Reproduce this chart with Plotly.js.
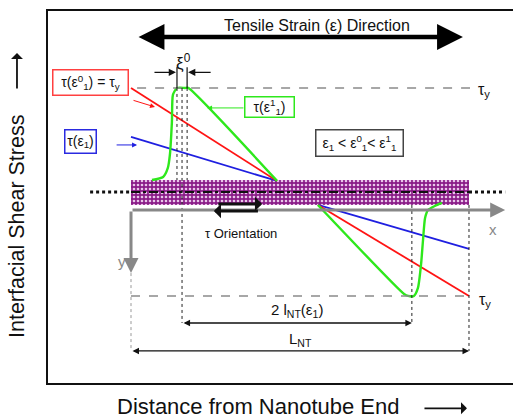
<!DOCTYPE html>
<html>
<head>
<meta charset="utf-8">
<script src="https://cdn.plot.ly/plotly-3.0.1.min.js"></script>
<style>html,body{margin:0;padding:0;background:#fff;}#chart{width:513px;height:419px;}</style>
</head>
<body>
<div id="chart"></div>
<script>
// ---- Schematic data (x: distance along nanotube / L_NT, y: shear stress / tau_y) ----
const nanotubeStart = 0, nanotubeEnd = 1;
const tauY = 1;

const redUpperX = [0, 0.432];
const redUpperY = [1, 0.106];
const redLowerX = [0.553, 1];
const redLowerY = [-0.125, -1];

const blueUpperX = [0, 0.432];
const blueUpperY = [0.53, 0.106];
const blueLowerX = [0.553, 1];
const blueLowerY = [-0.125, -0.548];

const greenUpperX = [0.062, 0.095, 0.109, 0.115, 0.121, 0.124, 0.136, 0.160, 0.169, 0.432];
const greenUpperY = [0.115, 0.144, 0.231, 0.356, 0.673, 0.933, 1, 1, 1, 0.106];
const greenLowerX = [0.553, 0.808, 0.820, 0.837, 0.849, 0.858, 0.864, 0.870, 0.879, 0.899, 0.920];
const greenLowerY = [-0.125, -0.981, -1, -1, -0.923, -0.702, -0.462, -0.25, -0.173, -0.135, -0.106];

const xiEdges = [0.136, 0.166];
const xiCenter = 0.151;
const lntRight = 0.831;

const centerlineLeftX = [-0.121, 0];
const centerlineMidX = [0, 1];
const centerlineRightX = [1, 1.107];

// ---- Traces ----
const traces = [];
// nanotube band
traces.push({type:'bar', orientation:'h', y:[-0.005], x:[nanotubeEnd - nanotubeStart], base:[nanotubeStart],
  width:[0.24], hoverinfo:'skip', showlegend:false,
  marker:{color:'#8a1c88', line:{width:0},
    pattern:{shape:'.', bgcolor:'#8a1c88', fgcolor:'#e9c6ea', size:4, solidity:0.35}}});
// centerline
traces.push({type:'scatter', mode:'lines', x:centerlineLeftX, y:[0,0], line:{color:'#111', width:3, dash:'dot'}, showlegend:false, hoverinfo:'skip'});
traces.push({type:'scatter', mode:'lines', x:centerlineMidX, y:[0,0], line:{color:'#111', width:2, dash:'dashdot'}, showlegend:false, hoverinfo:'skip'});
traces.push({type:'scatter', mode:'lines', x:centerlineRightX, y:[0,0], line:{color:'#111', width:3, dash:'dot'}, showlegend:false, hoverinfo:'skip'});

const lineTrace = (x, y, color, w, shape) => ({type:'scatter', mode:'lines', x:x, y:y,
  line:{color:color, width:w, shape:shape||'linear', smoothing:0.6}, showlegend:false, hoverinfo:'skip'});
traces.push(lineTrace(blueUpperX, blueUpperY, '#1f1fe0', 1.8));
traces.push(lineTrace(blueLowerX, blueLowerY, '#1f1fe0', 1.8));
traces.push(lineTrace(redUpperX, redUpperY, '#ff1414', 1.8));
traces.push(lineTrace(redLowerX, redLowerY, '#ff1414', 1.8));
traces.push(lineTrace(greenUpperX, greenUpperY, '#2ee81c', 2.4, 'spline'));
traces.push(lineTrace(greenLowerX, greenLowerY, '#2ee81c', 2.4, 'spline'));

// ---- Shapes ----
const dashGray = {color:'#8a8a8a', width:1.5, dash:'dash'};
const dotBlack = {color:'#222', width:1, dash:'dot'};
const shapes = [
  {type:'line', xref:'x', yref:'y', x0:0.018, x1:1.003, y0:tauY, y1:tauY, line:dashGray},
  {type:'line', xref:'x', yref:'y', x0:nanotubeStart, x1:nanotubeEnd, y0:-tauY, y1:-tauY, line:dashGray},
  {type:'line', xref:'x', yref:'y', x0:xiEdges[0], x1:xiEdges[0], y0:tauY, y1:0.115, line:dotBlack},
  {type:'line', xref:'x', yref:'y', x0:xiEdges[1], x1:xiEdges[1], y0:tauY, y1:0.115, line:dotBlack},
  {type:'line', xref:'x', yref:'y', x0:xiCenter, x1:xiCenter, y0:tauY, y1:-1.26, line:dotBlack},
  {type:'line', xref:'x', yref:'y', x0:lntRight, x1:lntRight, y0:-0.125, y1:-1.26, line:dotBlack},
  {type:'line', xref:'x', yref:'y', x0:nanotubeEnd, x1:nanotubeEnd, y0:-0.125, y1:-1.529, line:dotBlack},
  {type:'line', xref:'x', yref:'y', x0:nanotubeStart, x1:nanotubeStart, y0:-0.78, y1:-1.529, line:{color:'#999', width:1, dash:'dot'}},
  {type:'line', xref:'x', yref:'y', x0:xiEdges[0], x1:xiEdges[0], y0:1.2, y1:1.0, line:{color:'#111', width:1.2}},
  {type:'line', xref:'x', yref:'y', x0:xiEdges[1], x1:xiEdges[1], y0:1.2, y1:1.0, line:{color:'#111', width:1.2}}
];

// ---- Annotations ----
const arrow = (x, y, ax, ay, color, w, head, size, side) => ({x:x, y:y, ax:ax, ay:ay, xref:'x', yref:'y', axref:'x', ayref:'y',
  text:'', showarrow:true, arrowcolor:color, arrowwidth:w, arrowhead:head, arrowsize:size, arrowside:side||'end', startarrowhead:head, startarrowsize:size});
const label = (x, y, text, size, color, extra) => Object.assign({x:x, y:y, xref:'x', yref:'y', text:text, showarrow:false,
  font:{family:'Liberation Sans, Arial, sans-serif', size:size, color:color||'#111'}}, extra||{});

const annotations = [
  arrow(0.982, 1.49, 0.018, 1.49, '#000', 4.5, 2, 1.15, 'end+start'),
  label(0.55, 1.6, 'Tensile Strain (ε) Direction', 16),
  label(0.154, 1.25, 'ξ<sup>0</sup>', 17),
  arrow(0.133, 1.15, 0.065, 1.15, '#111', 1.2, 2, 1.2),
  arrow(0.169, 1.15, 0.240, 1.15, '#111', 1.2, 2, 1.2),
  label(1.043, 0.975, 'τ<sub>y</sub>', 16),
  label(1.047, -1.045, 'τ<sub>y</sub>', 16),
  label(-0.121, 1.048, 'τ(ε<sup>0</sup><sub>1</sub>) = τ<sub>y</sub>', 14, '#111',
    {bordercolor:'#ff4040', borderwidth:1.5, bgcolor:'#fff', width:72, height:22, borderpad:1}),
  arrow(0.071, 0.817, 0.003, 0.885, '#ff1414', 1, 2, 1),
  label(-0.148, 0.481, 'τ(ε<sub>1</sub>)', 14, '#111',
    {bordercolor:'#2a2ae0', borderwidth:1.5, bgcolor:'#fff', width:28, height:20, borderpad:1}),
  arrow(0.018, 0.452, -0.047, 0.452, '#1f1fe0', 1, 2, 1),
  label(0.411, 0.8125, 'τ(ε<sup>1</sup><sub>1</sub>)', 14, '#111',
    {bordercolor:'#2ee81c', borderwidth:1.5, bgcolor:'#fff', width:46, height:17, borderpad:1}),
  arrow(0.225, 0.808, 0.337, 0.808, '#2ee81c', 1, 2, 1),
  label(0.675, 0.466, 'ε<sub>1</sub> &lt; ε<sup>0</sup><sub>1</sub>&lt; ε<sup>1</sup><sub>1</sub>', 14, '#111',
    {bordercolor:'#444', borderwidth:1.5, bgcolor:'#fff', width:84, height:23, borderpad:1}),
  arrow(1.107, -0.173, 0, -0.173, '#888', 3, 2, 1),
  arrow(0, -0.779, 0, -0.173, '#888', 3, 2, 1),
  label(1.071, -0.365, 'x', 15, '#888'),
  label(-0.027, -0.673, 'y', 15, '#888'),
  arrow(0.388, -0.115, 0.254, -0.115, '#111', 3, 1, 0.8),
  arrow(0.245, -0.183, 0.38, -0.183, '#111', 3, 1, 0.8),
  label(0.325, -0.404, 'τ Orientation', 13),
  arrow(lntRight, -1.26, xiCenter, -1.26, '#111', 1.3, 2, 1, 'end+start'),
  label(0.491, -1.144, '2 l<sub>NT</sub>(ε<sub>1</sub>)', 15),
  arrow(nanotubeEnd, -1.529, nanotubeStart, -1.529, '#111', 1.3, 2, 1, 'end+start'),
  label(0.5, -1.423, 'L<sub>NT</sub>', 15),
  // axis titles
  {xref:'paper', yref:'paper', x:0.4527, y:-0.0645, xanchor:'center', yanchor:'middle', text:'Distance from Nanotube End', showarrow:false,
    font:{family:'Liberation Sans, Arial, sans-serif', size:22, color:'#111'}},
  {xref:'paper', yref:'paper', x:-0.0667, y:0.422, xanchor:'center', yanchor:'middle', text:'Interfacial Shear Stress', textangle:-90, showarrow:false,
    font:{family:'Liberation Sans, Arial, sans-serif', size:21.5, color:'#111'}},
  {xref:'paper', yref:'paper', x:0.901, y:-0.068, ax:-44, ay:0, axref:'pixel', ayref:'pixel', text:'', showarrow:true,
    arrowcolor:'#111', arrowwidth:1.8, arrowhead:1, arrowsize:1.1},
  {xref:'paper', yref:'paper', x:-0.0667, y:0.887, ax:0, ay:37, axref:'pixel', ayref:'pixel', text:'', showarrow:true,
    arrowcolor:'#111', arrowwidth:1.8, arrowhead:1, arrowsize:1.1}
];

const layout = {
  width:513, height:419,
  margin:{l:48, r:0, t:11, b:36},
  paper_bgcolor:'#fff', plot_bgcolor:'#fff',
  showlegend:false,
  bargap:0,
  font:{family:'Liberation Sans, Arial, sans-serif', color:'#111'},
  xaxis:{range:[-0.2456, 1.1302], showgrid:false, zeroline:false, showticklabels:false, ticks:'',
    showline:true, mirror:true, linecolor:'#111', linewidth:2, fixedrange:true},
  yaxis:{range:[-1.837, 1.740], showgrid:false, zeroline:false, showticklabels:false, ticks:'',
    showline:true, mirror:false, linecolor:'#111', linewidth:2, fixedrange:true},
  shapes:shapes,
  annotations:annotations
};

Plotly.newPlot('chart', traces, layout, {staticPlot:true, displayModeBar:false});
</script>
</body>
</html>
